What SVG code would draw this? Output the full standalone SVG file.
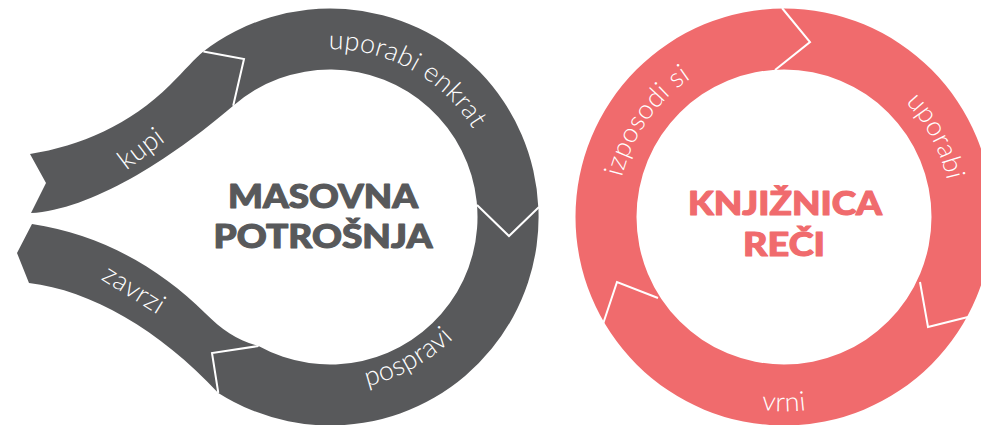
<svg xmlns="http://www.w3.org/2000/svg" width="981" height="425" viewBox="0 0 981 425">
  <style>
    .gray { fill: #58595B; }
    .pink { fill: #F06B6D; }
    .sep { fill: none; stroke: #FFFFFF; stroke-width: 2; stroke-linejoin: miter; }
    .lbl { font-family: Lato, "Open Sans", "Liberation Sans", sans-serif; font-weight: 300; font-size: 27px; letter-spacing: 0.3px; fill: #FFFFFF; }
    .title { font-family: Lato, "Liberation Sans", sans-serif; font-weight: 900; font-size: 32px; text-anchor: middle; stroke-width: 1.1; stroke-linejoin: round; }
    .tg { fill: #58595B; stroke: #58595B; }
    .tp { fill: #F06B6D; stroke: #F06B6D; }
  </style>
  <defs>
    <path id="arc-uporabi-enkrat" d="M186.2,134 A166,166 0 0 1 476.6,294.9"/>
    <path id="arc-pospravi" d="M167.2,311 A189,189 0 0 0 496,128.7"/>
    <path id="arc-izposodi" d="M685.3,352.9 A168,168 0 0 1 877.9,77.7"/>
    <path id="arc-uporabi" d="M707.7,67.3 A168,168 0 0 1 865.4,363.9"/>
    <path id="arc-vrni" d="M593,220.3 A191,191 0 0 0 975,220.3"/>
  </defs>

  <g id="masovna-potrosnja">
    <path class="gray" d="M30,154 C80,146 130,125 170,85 C185,70 195,58 203.4,51.4 A208.5,208.5 0 1 1 218.3,393 C160,330 90,290 29,283 L17,253 L32,224 C100,234 160,268 205,313 C222,330 238,341 258.5,346 A147.5,147.5 0 1 0 233.2,105.7 C170,160 90,210 31,213 L46,183 Z"/>
    <text class="lbl" transform="translate(142,150) rotate(-37)" text-anchor="middle" y="7">kupi</text>
    <text class="lbl"><textPath href="#arc-uporabi-enkrat" startOffset="50%" text-anchor="middle">uporabi enkrat</textPath></text>
    <text class="lbl"><textPath href="#arc-pospravi" startOffset="50%" text-anchor="middle">pospravi</textPath></text>
    <text class="lbl" transform="translate(133,291) rotate(32)" text-anchor="middle" y="7">zavrzi</text>
    <text class="title tg"><tspan x="323" y="208" textLength="190" lengthAdjust="spacingAndGlyphs">MASOVNA</tspan><tspan x="323" y="248" textLength="219" lengthAdjust="spacingAndGlyphs">POTROŠNJA</tspan></text>
  </g>

  <g id="knjiznica-reci">
    <path class="pink" fill-rule="evenodd" d="M575.5,217 A208.5,208.5 0 1 1 992.5,217 A208.5,208.5 0 1 1 575.5,217 Z M636.5,217 A147.5,147.5 0 1 0 931.5,217 A147.5,147.5 0 1 0 636.5,217 Z"/>
    <text class="lbl"><textPath href="#arc-izposodi" startOffset="50%" text-anchor="middle">izposodi si</textPath></text>
    <text class="lbl"><textPath href="#arc-uporabi" startOffset="50%" text-anchor="middle">uporabi</textPath></text>
    <text class="lbl"><textPath href="#arc-vrni" startOffset="50%" text-anchor="middle">vrni</textPath></text>
    <text class="title tp"><tspan x="785" y="215" textLength="194" lengthAdjust="spacingAndGlyphs">KNJIŽNICA</tspan><tspan x="784" y="256" textLength="82" lengthAdjust="spacingAndGlyphs">REČI</tspan></text>
  </g>

  <g id="separators">
    <polyline class="sep" points="203.4,51.4 244,59 233.2,105.7"/>
    <polyline class="sep" points="477,205 509,236 539,207"/>
    <polyline class="sep" points="258.5,346 212,353 218.3,393"/>
    <polyline class="sep" points="782,8 810,42 775,70"/>
    <polyline class="sep" points="920,282 928,327 968,317"/>
    <polyline class="sep" points="603,324 617,282 658,298"/>
  </g>
</svg>
